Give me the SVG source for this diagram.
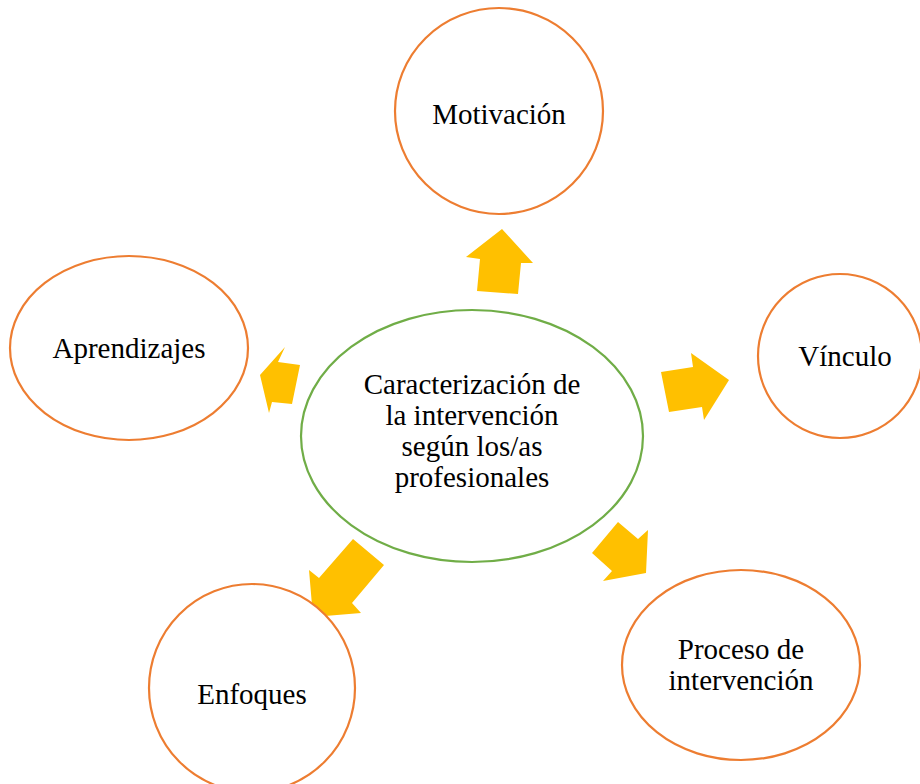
<svg xmlns="http://www.w3.org/2000/svg" width="920" height="784" viewBox="0 0 920 784">
<style>
.o{fill:#fff;stroke:#ED7D31;stroke-width:2.2}
.g{fill:#fff;stroke:#70AD47;stroke-width:2.2}
.a{fill:#FFC000}
text{font-family:"Liberation Serif","Times New Roman",serif;font-size:29px;fill:#000;text-anchor:middle}
</style>
<rect width="920" height="784" fill="#fff"/>
<g id="connectors">
<polygon class="a" points="502,229 533,263 521,263 518,294 477,291 480,259 466,257"/>
<polygon class="a" points="729,380 704,420 702,407 669,412 661,372 693,367 691,353"/>
<polygon class="a" points="646,573 603,581 612,571 592,553 618,522 638,539 648,530"/>
<polygon class="a" points="313,617 309,570 319,578 353,539 384,565 352,603 361,613"/>
<polygon class="a" points="260,375 285,347 278,362 300,365 292,404 272,402 269,413"/>
</g>
<g id="center">
<ellipse class="g" cx="472" cy="436" rx="171" ry="126"/>
<text x="472" y="394">Caracterización de</text>
<text x="472" y="425">la intervención</text>
<text x="472" y="456">según los/as</text>
<text x="472" y="487">profesionales</text>
</g>
<g id="motivacion">
<ellipse class="o" cx="499" cy="111" rx="104" ry="103"/>
<text x="499" y="124">Motivación</text>
</g>
<g id="aprendizajes">
<ellipse class="o" cx="129" cy="348" rx="119" ry="92"/>
<text x="129" y="358">Aprendizajes</text>
</g>
<g id="vinculo">
<ellipse class="o" cx="840" cy="356" rx="82" ry="82"/>
<text x="845" y="366">Vínculo</text>
</g>
<g id="proceso">
<ellipse class="o" cx="741" cy="665" rx="119" ry="95"/>
<text x="741" y="659">Proceso de</text>
<text x="741" y="690">intervención</text>
</g>
<g id="enfoques">
<ellipse class="o" cx="252" cy="688" rx="103" ry="104"/>
<text x="252" y="704">Enfoques</text>
</g>
</svg>
